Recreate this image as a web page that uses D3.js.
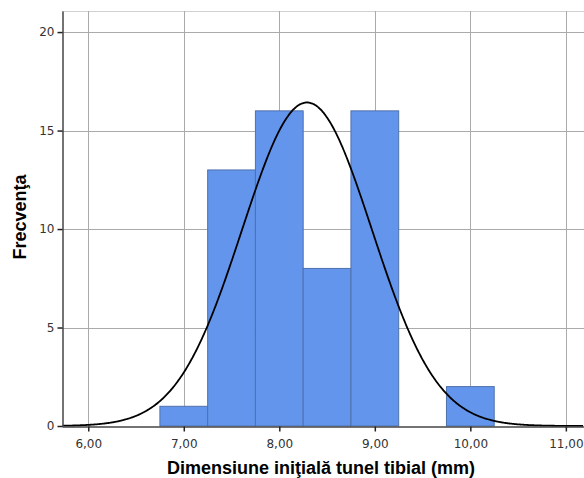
<!DOCTYPE html>
<html>
<head>
<meta charset="utf-8">
<script src="https://cdn.jsdelivr.net/npm/d3@7"></script>
<style>
  body { margin: 0; background: #fff; }
  svg { display: block; }
</style>
</head>
<body>
<div id="chart"></div>
<script>
// bin edges (mm) and counts
const binStarts = [6.75, 7.25, 7.75, 8.25, 8.75, 9.25, 9.75];
const binCounts = [1, 13, 16, 8, 16, 0, 2];
const binWidth = 0.5;
const xTicks = [6, 7, 8, 9, 10, 11];
const yTicks = [0, 5, 10, 15, 20];
// normal curve params (SPSS overlay)
const mean = 8.29;
const sd = 0.68;

const width = 584, height = 478;
const margin = {top: 11, right: 0, bottom: 52, left: 62};

const svg = d3.select("#chart").append("svg")
	.attr("width", width)
	.attr("height", height);

const x = d3.scaleLinear()
	.domain([5.725, 11.19])
	.range([margin.left, width - margin.right]);

const y = d3.scaleLinear()
	.domain([0, 21.07])
	.range([height - margin.bottom, margin.top]);

// top border
svg.append("line")
	.attr("x1", margin.left).attr("x2", width)
	.attr("y1", margin.top + 0.5).attr("y2", margin.top + 0.5)
	.attr("stroke", "#d0d0d0");

// grid
svg.append("g")
	.selectAll("line")
	.data(xTicks)
	.join("line")
	.attr("x1", d => Math.round(x(d)) + 0.5)
	.attr("x2", d => Math.round(x(d)) + 0.5)
	.attr("y1", margin.top)
	.attr("y2", y(0))
	.attr("stroke", "#aaa");

svg.append("g")
	.selectAll("line")
	.data(yTicks.filter(d => d > 0))
	.join("line")
	.attr("x1", margin.left)
	.attr("x2", width)
	.attr("y1", d => Math.round(y(d)) + 0.5)
	.attr("y2", d => Math.round(y(d)) + 0.5)
	.attr("stroke", "#aaa");

// bars
svg.append("g")
	.selectAll("rect")
	.data(binStarts.map((s, i) => ({s, n: binCounts[i]})).filter(d => d.n > 0))
	.join("rect")
	.attr("x", d => x(d.s))
	.attr("y", d => y(d.n))
	.attr("width", d => x(d.s + binWidth) - x(d.s))
	.attr("height", d => y(0) - y(d.n))
	.attr("fill", "#6495ed")
	.attr("stroke", "#4f70ad")
	.attr("stroke-width", 1);

// normal curve
const total = d3.sum(binCounts);
const pdf = v => total * binWidth / (sd * Math.sqrt(2 * Math.PI)) * Math.exp(-0.5 * ((v - mean) / sd) ** 2);
const xs = d3.range(5.73, 11.19, 0.01);

svg.append("path")
	.datum(xs)
	.attr("fill", "none")
	.attr("stroke", "#000")
	.attr("stroke-width", 1.8)
	.attr("d", d3.line().x(d => x(d)).y(d => y(pdf(d))).curve(d3.curveBasis));

// axes
const xAxis = svg.append("g")
	.attr("transform", `translate(0,${Math.round(y(0)) + 0.5})`)
	.call(d3.axisBottom(x).tickValues(xTicks).tickSize(5).tickSizeOuter(0)
		.tickFormat(d => d3.format(".2f")(d).replace(".", ",")));

const yAxis = svg.append("g")
	.attr("transform", `translate(${margin.left + 0.5},0)`)
	.call(d3.axisLeft(y).tickValues(yTicks).tickSize(5).tickSizeOuter(0));

[xAxis, yAxis].forEach(g => {
	g.select(".domain").attr("stroke", "#444").attr("stroke-width", 1.5);
	g.selectAll(".tick line").attr("stroke", "#222").attr("stroke-width", 1.5);
	g.selectAll(".tick text")
		.attr("fill", "#333")
		.style("font", "12px 'DejaVu Sans', sans-serif");
});
xAxis.selectAll(".tick text").attr("dy", "1.1em");

// titles
svg.append("text")
	.attr("x", 321)
	.attr("y", 474)
	.attr("text-anchor", "middle")
	.style("font", "bold 18px 'Liberation Sans', Arial, sans-serif")
	.text("Dimensiune iniţială tunel tibial (mm)");

svg.append("text")
	.attr("transform", "translate(26,217) rotate(-90)")
	.attr("text-anchor", "middle")
	.style("font", "bold 18px 'Liberation Sans', Arial, sans-serif")
	.text("Frecvenţa");
</script>
</body>
</html>
